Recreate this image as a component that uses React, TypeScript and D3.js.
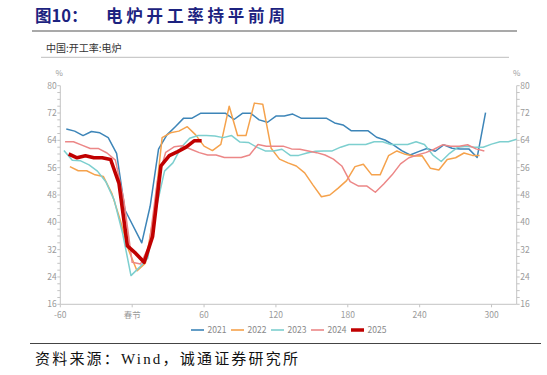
import React from "react";
import * as d3 from "d3";

const years = ["2021", "2022", "2023", "2024", "2025"];
const colors = ["#3d85b8", "#f5a24c", "#7dcfcf", "#ec8787", "#c00000"];

const s2021: [number, number][] = [
  [-55, 67.3], [-48, 66.7], [-41, 65.4], [-34, 66.6], [-27, 66.2], [-20, 64.8], [-13, 60.2], [-6, 43.6],
  [8, 34.0], [15, 44.7], [22, 61.4], [29, 65.6], [36, 68.0], [43, 70.5], [50, 70.5], [57, 71.9],
  [64, 71.9], [71, 71.9], [78, 71.9], [85, 70.1], [92, 71.9], [99, 71.9], [106, 70.0], [113, 69.3],
  [120, 71.1], [127, 71.1], [134, 71.7], [141, 70.5], [148, 70.5], [155, 70.5], [162, 70.5], [169, 69.1],
  [176, 68.5], [183, 66.8], [190, 66.8], [197, 66.8], [204, 64.9], [211, 64.1], [218, 62.7], [225, 61.0],
  [232, 59.7], [239, 60.7], [246, 61.6], [253, 60.8], [260, 62.7], [267, 61.7], [274, 61.5], [281, 61.5],
  [288, 59.0], [295, 72.1],
];
const s2022: [number, number][] = [
  [-52, 56.3], [-45, 55.1], [-38, 55.1], [-31, 53.9], [-24, 53.4], [-17, 48.5], [-10, 40.7], [-3, 31.9],
  [4, 25.8], [11, 28.0], [18, 42.0], [25, 64.8], [32, 66.2], [39, 66.7], [46, 68.0], [53, 65.6],
  [60, 62.3], [67, 61.0], [74, 62.8], [81, 74.0], [88, 65.4], [95, 65.4], [102, 74.9], [109, 74.6],
  [116, 61.7], [123, 58.5], [130, 57.4], [137, 56.5], [144, 54.5], [151, 50.9], [158, 47.5], [165, 48.0],
  [172, 50.0], [179, 52.2], [186, 56.3], [193, 57.0], [200, 53.9], [207, 53.9], [214, 59.5], [221, 60.9],
  [228, 59.9], [235, 59.4], [242, 59.5], [249, 55.8], [256, 55.3], [263, 58.4], [270, 58.9], [277, 60.3],
  [284, 59.6], [290, 59.6],
];
const s2023: [number, number][] = [
  [-57, 61.0], [-50, 58.2], [-43, 58.0], [-36, 56.8], [-29, 55.0], [-22, 51.9], [-15, 46.5], [-8, 36.8],
  [-1, 24.4], [6, 26.8], [13, 29.5], [20, 44.0], [27, 55.0], [34, 57.4], [41, 62.0], [48, 64.6],
  [55, 65.4], [62, 65.4], [69, 65.3], [76, 64.8], [83, 65.4], [90, 63.5], [97, 63.4], [104, 62.0],
  [111, 60.9], [118, 60.9], [125, 61.4], [132, 59.6], [139, 59.6], [146, 60.3], [153, 60.8], [160, 60.9],
  [167, 60.9], [174, 62.0], [181, 62.8], [188, 62.8], [195, 62.8], [202, 63.6], [209, 63.6], [216, 62.8],
  [223, 62.8], [230, 62.8], [237, 63.6], [244, 62.8], [251, 59.7], [258, 57.8], [265, 60.2], [272, 62.0],
  [279, 62.3], [286, 62.0], [293, 62.0], [300, 62.9], [307, 63.6], [314, 63.6], [321, 64.3],
];
const s2024: [number, number][] = [
  [-56, 63.6], [-49, 63.6], [-42, 62.6], [-35, 61.6], [-28, 61.6], [-21, 60.3], [-14, 58.2], [-7, 46.6],
  [0, 28.3], [7, 27.8], [14, 33.0], [21, 52.0], [28, 60.5], [35, 62.1], [42, 62.4], [49, 61.4],
  [56, 60.4], [63, 59.7], [70, 59.7], [77, 59.0], [84, 59.0], [91, 59.0], [98, 59.7], [105, 62.8],
  [112, 62.3], [119, 62.3], [126, 62.3], [133, 61.5], [140, 61.4], [147, 60.9], [154, 60.4], [161, 59.7],
  [168, 58.5], [175, 56.5], [182, 51.9], [189, 50.6], [196, 50.6], [203, 48.8], [210, 51.2], [217, 53.9],
  [224, 57.1], [231, 58.9], [238, 59.7], [245, 60.4], [252, 61.4], [259, 62.7], [266, 62.3], [273, 62.3],
  [280, 62.7], [287, 61.5], [294, 60.9],
];
const s2025: [number, number][] = [
  [-53, 60.0], [-46, 58.9], [-39, 59.5], [-32, 58.9], [-25, 58.9], [-18, 58.4], [-11, 51.4], [-4, 33.1],
  [3, 30.9], [10, 28.3], [17, 35.8], [24, 56.5], [31, 59.5], [38, 60.7], [45, 62.0], [52, 63.9], [58, 63.9],
];
const series = [s2021, s2022, s2023, s2024, s2025];

const xTicks = [-60, 0, 60, 120, 180, 240, 300];
const xTickLabels = ["-60", "春节", "60", "120", "180", "240", "300"];
const yTicks = [16, 24, 32, 40, 48, 56, 64, 72, 80];

const title = "图10：";
const titleMain = "电炉开工率持平前周";
const subtitle = "中国:开工率:电炉";
const source = "资料来源：Wind，诚通证券研究所";

export default function App() {
  const W = 547, H = 375;
  const x = d3.scaleLinear().domain([-60, 321]).range([60.3, 516.7]);
  const y = d3.scaleLinear().domain([16, 80]).range([304.3, 85.7]);
  const line = d3.line<[number, number]>().x(d => x(d[0])).y(d => y(d[1]));
  const minor = d3.range(16, 80.01, 2);
  const axisColor = "#c4c4c4";
  const labelColor = "#9a9a9a";
  const font = "'Noto Sans CJK SC', 'Noto Sans', sans-serif";
  const x0 = x(-60), x1 = x(321);

  return (
    <svg width={W} height={H} style={{ position: "absolute", left: 0, top: 0, background: "#fff" }}>
      <text x={35} y={22} fontFamily={font} fontWeight={700} fontSize={16.5} fill="#1c2280">{title}</text>
      <text x={106} y={22} fontFamily={font} fontWeight={700} fontSize={16.5} letterSpacing={3.8} fill="#1c2280">{titleMain}</text>
      <line x1={32} x2={517} y1={31} y2={31} stroke="#555" strokeWidth={1.2} />
      <text x={46} y={52} fontFamily={font} fontSize={10} fill="#333">{subtitle}</text>
      <line x1={41} x2={509} y1={57.3} y2={57.3} stroke="#bdbdbd" strokeWidth={1} />

      <text x={x0 - 1} y={76} fontFamily={font} fontSize={8} fill={labelColor} textAnchor="middle">%</text>
      <text x={x1} y={76} fontFamily={font} fontSize={8} fill={labelColor} textAnchor="middle">%</text>

      <line x1={x0} x2={x0} y1={y(80)} y2={y(16)} stroke={axisColor} />
      <line x1={x1} x2={x1} y1={y(80)} y2={y(16)} stroke={axisColor} />
      <line x1={x0} x2={x1} y1={y(16)} y2={y(16)} stroke={axisColor} />
      {minor.map(v => (
        <g key={"m" + v}>
          <line x1={x0 - 3} x2={x0} y1={y(v)} y2={y(v)} stroke={axisColor} />
          <line x1={x1} x2={x1 + 3} y1={y(v)} y2={y(v)} stroke={axisColor} />
        </g>
      ))}
      {yTicks.map(v => (
        <g key={"y" + v}>
          <text x={x0 - 3.5} y={y(v) + 3} fontFamily={font} fontSize={8.5} fill={labelColor} textAnchor="end">{v}</text>
          <text x={x1 + 3.5} y={y(v) + 3} fontFamily={font} fontSize={8.5} fill={labelColor}>{v}</text>
        </g>
      ))}
      {xTicks.map((v, i) => (
        <g key={"x" + v}>
          <line x1={x(v)} x2={x(v)} y1={y(16)} y2={y(16) + 3} stroke={axisColor} />
          <text x={x(v)} y={318} fontFamily={font} fontSize={8.5} fill={labelColor} textAnchor="middle">{xTickLabels[i]}</text>
        </g>
      ))}

      {series.map((s, i) => (
        <path key={years[i]} d={line(s) || ""} fill="none" stroke={colors[i]}
          strokeWidth={i === 4 ? 3.6 : 1.5} strokeLinejoin="round" />
      ))}

      {years.map((yr, i) => (
        <g key={"l" + yr} transform={`translate(${191 + i * 40},330)`}>
          <line x1={0} x2={13} y1={0} y2={0} stroke={colors[i]} strokeWidth={i === 4 ? 3.5 : 1.6} />
          <text x={16.5} y={3} fontFamily={font} fontSize={8.5} fill="#888">{yr}</text>
        </g>
      ))}

      <line x1={30} x2={541} y1={343.5} y2={343.5} stroke="#444" strokeWidth={1.2} />
      <text x={35} y={364} fontFamily="'Liberation Serif', 'Noto Sans CJK SC', serif" fontSize={15} letterSpacing={2.2} fill="#111">{source}</text>
    </svg>
  );
}
